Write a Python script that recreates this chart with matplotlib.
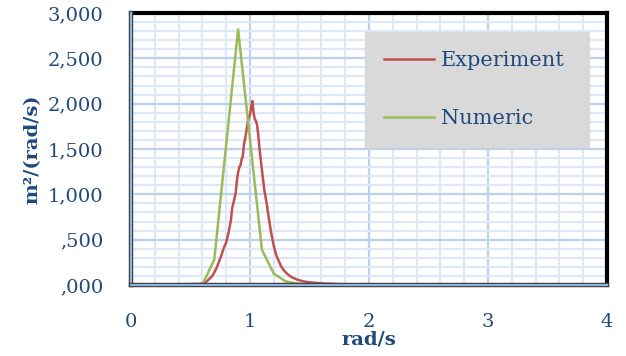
import matplotlib
matplotlib.use("Agg")
import matplotlib.pyplot as plt
import matplotlib.patheffects as pe
from matplotlib.ticker import MultipleLocator, FixedLocator, FixedFormatter

# spectrum values
exp_w = [0.30, 0.40, 0.50, 0.56, 0.60, 0.62, 0.64, 0.66, 0.68, 0.70, 0.72, 0.74,
         0.76, 0.78, 0.80, 0.82, 0.84, 0.85, 0.86, 0.87, 0.88, 0.89, 0.90, 0.91,
         0.92, 0.93, 0.94, 0.95, 0.96, 0.97, 0.98, 0.99, 1.00, 1.01, 1.02, 1.03,
         1.04, 1.05, 1.06, 1.07, 1.08, 1.10, 1.12, 1.14, 1.16, 1.18, 1.20, 1.22,
         1.24, 1.26, 1.28, 1.30, 1.32, 1.34, 1.36, 1.40, 1.45, 1.50, 1.60, 1.70,
         1.80, 2.00, 2.50, 3.00]
exp_s = [5, 8, 10, 12, 15, 25, 45, 70, 95, 140, 190, 260,
         330, 410, 470, 580, 720, 850, 900, 960, 1020, 1150, 1240, 1300,
         1320, 1390, 1420, 1560, 1620, 1700, 1790, 1850, 1880, 1960, 2030, 1900,
         1830, 1810, 1760, 1650, 1500, 1270, 1050, 900, 720, 560, 430, 330,
         270, 210, 170, 140, 115, 95, 80, 58, 40, 30, 18, 12,
         8, 5, 3, 2]

num_w = [0.1, 0.2, 0.3, 0.4, 0.5, 0.6, 0.7, 0.8, 0.9, 1.0, 1.1, 1.2, 1.3, 1.4, 1.5,
         1.6, 1.7, 1.8, 1.9, 2.0, 2.1, 2.2, 2.3, 2.4, 2.5, 2.6, 2.7, 2.8, 2.9]
num_s = [0, 0, 0, 1, 2, 5, 280, 1550, 2820, 1605, 389, 125, 40, 15, 7,
         4, 3, 2, 2, 1, 1, 1, 1, 0, 0, 0, 0, 0, 0]

y_ticks = [0, 500, 1000, 1500, 2000, 2500, 3000]
y_labels = [",000", ",500", "1,000", "1,500", "2,000", "2,500", "3,000"]
x_ticks = [0, 1, 2, 3, 4]

txt = "#1f497d"
plt.rcParams["font.family"] = ["DejaVu Serif"]

fig = plt.figure(figsize=(6.26, 3.56), dpi=100)
ax = fig.add_axes([0.2093, 0.1994, 0.7603, 0.7640])

ax.plot(exp_w, exp_s, color="#c0504d", lw=1.8, label="Experiment", zorder=3)
ax.plot(num_w, num_s, color="#9bbb59", lw=1.8, label="Numeric", zorder=3)

ax.set_xlim(0, 4)
ax.set_ylim(0, 3000)
ax.xaxis.set_major_locator(FixedLocator(x_ticks))
ax.xaxis.set_minor_locator(MultipleLocator(0.2))
ax.yaxis.set_major_locator(FixedLocator(y_ticks))
ax.yaxis.set_major_formatter(FixedFormatter(y_labels))
ax.yaxis.set_minor_locator(MultipleLocator(100))

ax.grid(which="major", color="#bcd1ed", lw=1.6, zorder=0)
ax.grid(which="minor", color="#dfe8f6", lw=1.6, zorder=0)
ax.set_axisbelow(True)

ax.tick_params(which="both", length=0, colors=txt, labelsize=14)
ax.tick_params(axis="x", pad=20)
ax.tick_params(axis="y", pad=20)

for s in ["top", "right"]:
    ax.spines[s].set_color("black")
    ax.spines[s].set_linewidth(3)
for s in ["left", "bottom"]:
    ax.spines[s].set_color("#8db3e2")
    ax.spines[s].set_linewidth(1.5)
    ax.spines[s].set_path_effects([pe.withStroke(linewidth=3.2, foreground="#404040")])
    ax.spines[s].set_zorder(4)

ax.set_xlabel("rad/s", color=txt, fontsize=14, fontweight="bold", labelpad=0)
ax.set_ylabel("m²/(rad/s)", color=txt, fontsize=14, fontweight="bold", labelpad=4)

leg = ax.legend(loc="upper left", bbox_to_anchor=(0.4916, 0.518, 0.47, 0.412),
                mode="expand", fontsize=15, frameon=True, fancybox=False,
                facecolor="#d9d9d9", edgecolor="#d9d9d9", framealpha=1,
                borderpad=0.9, labelspacing=1.9, handlelength=2.4,
                handletextpad=0.35, borderaxespad=0)
for t in leg.get_texts():
    t.set_color(txt)

fig.savefig("out.png", dpi=100)
